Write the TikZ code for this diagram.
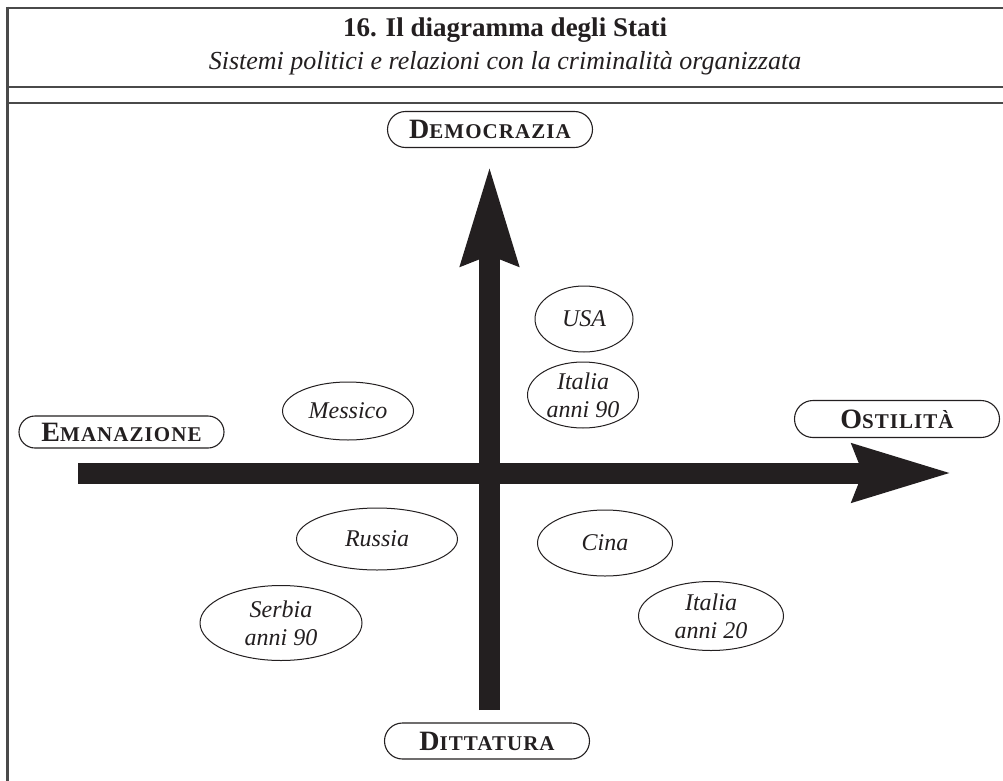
\documentclass[tikz,border=0pt]{standalone}
\usepackage{fontspec}
\setmainfont{Liberation Serif}
\usetikzlibrary{arrows.meta,shapes.geometric,shapes.misc}
\definecolor{ink}{HTML}{231F20}
\definecolor{rulegray}{HTML}{4A4A4A}
\newcommand\fakesc[2]{{\fontsize{28}{26}\selectfont #1}{\fontsize{21}{21}\selectfont\addfontfeature{LetterSpace=5}#2}}
\begin{document}
\begin{tikzpicture}[x=1pt,y=-1pt,
  axislabel/.style={draw=ink, line width=1.1pt, rounded rectangle, minimum width=205pt, minimum height=36pt, inner sep=0pt, font=\bfseries, text=ink},
  country/.style={draw=ink, line width=1pt, ellipse, inner sep=0pt, font=\itshape\fontsize{24}{28}\selectfont, text=ink, align=center},
  axisarrow/.style={draw=ink, line width=21pt, line cap=butt, -{Stealth[length=98pt,width=54pt,inset=8pt]}}]
\useasboundingbox (0,0) rectangle (1003,781);
\fill[white] (0,0) rectangle (1003,781);
% frame
\draw[rulegray, line width=2.5pt] (7,8) -- (1003,8);
\draw[rulegray, line width=3pt] (7,6.75) -- (7,781);
\draw[rulegray, line width=1.3pt] (7,87) -- (1003,87);
\draw[rulegray, line width=2.2pt] (7,103) -- (1003,103);
% titles
\node[text=ink, font=\bfseries\fontsize{27}{27}\selectfont] (title) at (505,30) {16. Il diagramma degli Stati};
\node[text=ink, font=\itshape\fontsize{26}{26}\selectfont] (subtitle) at (505,63) {Sistemi politici e relazioni con la criminalità organizzata};
% axes
\coordinate (hstart) at (78,473);
\coordinate (hend) at (953,473);
\coordinate (vstart) at (489.5,710);
\coordinate (vend) at (489.5,165);
\draw[axisarrow] (hstart) -- (hend);
\draw[axisarrow] (vstart) -- (vend);
% axis labels
\node[axislabel] (dem) at (490,129.5) {\fakesc{D}{EMOCRAZIA}};
\node[axislabel, minimum height=32pt] (ema) at (121.5,432) {\fakesc{E}{MANAZIONE}};
\node[axislabel, minimum height=37pt] (ost) at (897,419) {\fakesc{O}{STILITÀ}};
\node[axislabel] (dit) at (487,741) {\fakesc{D}{ITTATURA}};
% countries
\node[country, minimum width=98pt, minimum height=66pt] (usa) at (584,319) {USA};
\node[country, minimum width=111pt, minimum height=66pt] (it90) at (583,395) {Italia\\anni 90};
\node[country, minimum width=131pt, minimum height=58pt] (mex) at (348,411) {Messico};
\node[country, minimum width=161pt, minimum height=62pt] (rus) at (377,539) {Russia};
\node[country, minimum width=135pt, minimum height=66pt] (cina) at (605,543) {Cina};
\node[country, minimum width=162pt, minimum height=75pt] (serb) at (281,623) {Serbia\\anni 90};
\node[country, minimum width=145pt, minimum height=69pt] (it20) at (711,616) {Italia\\anni 20};
\end{tikzpicture}
\end{document}
